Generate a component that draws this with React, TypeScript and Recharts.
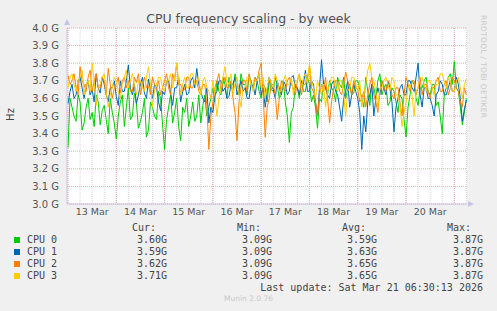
import { LineChart, Line, XAxis, YAxis, CartesianGrid } from 'recharts';

// hourly samples, starting Mar 13 00:00
const hours = Array.from({ length: 199 }, (_, i) => i);

const cpu0 = [
  3.32, 3.60, 3.55, 3.50, 3.47, 3.62, 3.58, 3.42, 3.46, 3.55, 3.60, 3.48, 3.52, 3.44, 3.62, 3.58, 3.45, 3.53, 3.56, 3.48,
  3.40, 3.60, 3.52, 3.46, 3.37, 3.50, 3.58, 3.62, 3.44, 3.55, 3.66, 3.48, 3.50, 3.63, 3.57, 3.43, 3.47, 3.52, 3.60, 3.38,
  3.42, 3.58, 3.55, 3.50, 3.48, 3.64, 3.60, 3.45, 3.31, 3.48, 3.55, 3.62, 3.46, 3.52, 3.60, 3.44, 3.36, 3.55, 3.52, 3.60,
  3.44, 3.50, 3.58, 3.47, 3.50, 3.62, 3.46, 3.56, 3.62, 3.50, 3.55, 3.60, 3.66, 3.58, 3.70, 3.64, 3.62, 3.72, 3.68, 3.60,
  3.72, 3.66, 3.65, 3.74, 3.70, 3.62, 3.74, 3.68, 3.68, 3.62, 3.73, 3.70, 3.65, 3.72, 3.70, 3.64, 3.60, 3.68, 3.66, 3.58,
  3.70, 3.65, 3.64, 3.72, 3.68, 3.60, 3.62, 3.70, 3.58, 3.50, 3.35, 3.52, 3.55, 3.68, 3.66, 3.60, 3.70, 3.64, 3.64, 3.72,
  3.68, 3.58, 3.62, 3.55, 3.43, 3.60, 3.58, 3.70, 3.66, 3.62, 3.70, 3.66, 3.64, 3.58, 3.72, 3.68, 3.66, 3.72, 3.60, 3.65,
  3.68, 3.62, 3.63, 3.70, 3.70, 3.65, 3.60, 3.55, 3.72, 3.64, 3.56, 3.68, 3.66, 3.60, 3.70, 3.74, 3.62, 3.66, 3.68, 3.56,
  3.58, 3.66, 3.64, 3.58, 3.52, 3.62, 3.60, 3.48, 3.38, 3.55, 3.62, 3.70, 3.68, 3.60, 3.56, 3.66, 3.66, 3.70, 3.72, 3.64,
  3.62, 3.68, 3.68, 3.56, 3.58, 3.50, 3.40, 3.62, 3.66, 3.72, 3.74, 3.68, 3.81, 3.66, 3.64, 3.55, 3.45, 3.52, 3.60,
];

const cpu1 = [
  3.57, 3.64, 3.68, 3.60, 3.62, 3.70, 3.72, 3.66, 3.60, 3.68, 3.70, 3.62, 3.65, 3.58, 3.74, 3.66, 3.63, 3.72, 3.68, 3.62,
  3.58, 3.66, 3.66, 3.70, 3.61, 3.56, 3.70, 3.64, 3.64, 3.70, 3.79, 3.66, 3.62, 3.68, 3.57, 3.62, 3.68, 3.72, 3.63, 3.60,
  3.71, 3.65, 3.60, 3.68, 3.66, 3.58, 3.53, 3.64, 3.62, 3.70, 3.70, 3.63, 3.56, 3.66, 3.66, 3.72, 3.58, 3.64, 3.68, 3.62,
  3.63, 3.70, 3.72, 3.66, 3.77, 3.68, 3.64, 3.60, 3.58, 3.66, 3.46, 3.55, 3.52, 3.62, 3.64, 3.70, 3.70, 3.64, 3.66, 3.60,
  3.61, 3.68, 3.68, 3.72, 3.62, 3.66, 3.70, 3.64, 3.66, 3.60, 3.60, 3.68, 3.67, 3.62, 3.70, 3.74, 3.62, 3.66, 3.55, 3.64,
  3.72, 3.68, 3.65, 3.60, 3.70, 3.66, 3.62, 3.70, 3.68, 3.62, 3.64, 3.72, 3.73, 3.66, 3.66, 3.62, 3.70, 3.68, 3.76, 3.64,
  3.64, 3.70, 3.68, 3.58, 3.50, 3.66, 3.82, 3.68, 3.66, 3.62, 3.60, 3.68, 3.70, 3.64, 3.62, 3.55, 3.47, 3.60, 3.64, 3.70,
  3.55, 3.62, 3.68, 3.64, 3.60, 3.52, 3.31, 3.50, 3.41, 3.58, 3.62, 3.68, 3.50, 3.60, 3.66, 3.62, 3.70, 3.66, 3.62, 3.70,
  3.66, 3.58, 3.41, 3.55, 3.60, 3.66, 3.68, 3.62, 3.62, 3.70, 3.70, 3.66, 3.64, 3.72, 3.80, 3.62, 3.55, 3.66, 3.66, 3.60,
  3.60, 3.56, 3.50, 3.62, 3.64, 3.70, 3.68, 3.62, 3.62, 3.66, 3.70, 3.64, 3.64, 3.72, 3.68, 3.60, 3.47, 3.54, 3.59,
];

const cpu2 = [
  3.73, 3.68, 3.70, 3.74, 3.66, 3.62, 3.78, 3.70, 3.68, 3.64, 3.72, 3.76, 3.64, 3.70, 3.74, 3.66, 3.66, 3.72, 3.70, 3.62,
  3.77, 3.68, 3.60, 3.66, 3.68, 3.72, 3.63, 3.70, 3.72, 3.66, 3.70, 3.64, 3.64, 3.72, 3.69, 3.74, 3.62, 3.68, 3.72, 3.66,
  3.67, 3.62, 3.72, 3.68, 3.65, 3.70, 3.62, 3.66, 3.70, 3.74, 3.66, 3.62, 3.74, 3.70, 3.80, 3.68, 3.68, 3.64, 3.65, 3.72,
  3.72, 3.66, 3.66, 3.70, 3.70, 3.64, 3.62, 3.68, 3.68, 3.56, 3.31, 3.50, 3.58, 3.66, 3.70, 3.74, 3.64, 3.68, 3.72, 3.66,
  3.66, 3.70, 3.60, 3.52, 3.36, 3.58, 3.66, 3.70, 3.70, 3.64, 3.74, 3.68, 3.66, 3.72, 3.70, 3.76, 3.80, 3.62, 3.38, 3.55,
  3.60, 3.68, 3.68, 3.62, 3.48, 3.60, 3.70, 3.66, 3.64, 3.70, 3.72, 3.68, 3.66, 3.62, 3.70, 3.74, 3.62, 3.68, 3.68, 3.72,
  3.78, 3.66, 3.64, 3.58, 3.50, 3.62, 3.68, 3.64, 3.72, 3.60, 3.46, 3.58, 3.66, 3.70, 3.70, 3.64, 3.62, 3.68, 3.75, 3.70,
  3.66, 3.62, 3.70, 3.66, 3.65, 3.58, 3.60, 3.64, 3.55, 3.62, 3.68, 3.72, 3.62, 3.58, 3.52, 3.64, 3.70, 3.66, 3.64, 3.70,
  3.68, 3.62, 3.60, 3.66, 3.66, 3.58, 3.50, 3.62, 3.72, 3.68, 3.64, 3.70, 3.70, 3.62, 3.66, 3.72, 3.62, 3.68, 3.68, 3.64,
  3.60, 3.66, 3.66, 3.70, 3.72, 3.64, 3.64, 3.68, 3.70, 3.62, 3.66, 3.72, 3.70, 3.66, 3.64, 3.58, 3.55, 3.66, 3.62,
];

const cpu3 = [
  3.66, 3.72, 3.74, 3.68, 3.64, 3.70, 3.72, 3.76, 3.62, 3.68, 3.70, 3.64, 3.80, 3.70, 3.56, 3.66, 3.68, 3.72, 3.74, 3.64,
  3.55, 3.62, 3.66, 3.72, 3.70, 3.64, 3.60, 3.68, 3.72, 3.76, 3.66, 3.70, 3.74, 3.68, 3.62, 3.70, 3.70, 3.66, 3.64, 3.72,
  3.78, 3.68, 3.55, 3.64, 3.68, 3.72, 3.72, 3.66, 3.64, 3.70, 3.70, 3.74, 3.66, 3.72, 3.80, 3.70, 3.62, 3.68, 3.72, 3.66,
  3.66, 3.74, 3.74, 3.68, 3.68, 3.72, 3.62, 3.70, 3.72, 3.66, 3.64, 3.60, 3.70, 3.62, 3.50, 3.60, 3.66, 3.72, 3.78, 3.70,
  3.68, 3.74, 3.62, 3.68, 3.72, 3.62, 3.55, 3.66, 3.66, 3.72, 3.72, 3.68, 3.64, 3.70, 3.70, 3.74, 3.66, 3.72, 3.60, 3.66,
  3.72, 3.68, 3.66, 3.74, 3.70, 3.64, 3.64, 3.70, 3.73, 3.68, 3.68, 3.72, 3.62, 3.70, 3.70, 3.74, 3.66, 3.72, 3.74, 3.68,
  3.80, 3.70, 3.66, 3.60, 3.70, 3.66, 3.62, 3.68, 3.55, 3.64, 3.68, 3.72, 3.72, 3.66, 3.64, 3.70, 3.70, 3.62, 3.50, 3.64,
  3.66, 3.72, 3.72, 3.68, 3.64, 3.70, 3.55, 3.62, 3.68, 3.76, 3.80, 3.72, 3.70, 3.64, 3.55, 3.66, 3.66, 3.70, 3.72, 3.68,
  3.64, 3.72, 3.70, 3.62, 3.62, 3.56, 3.44, 3.52, 3.58, 3.66, 3.68, 3.62, 3.50, 3.64, 3.66, 3.72, 3.72, 3.68, 3.64, 3.70,
  3.70, 3.66, 3.62, 3.68, 3.68, 3.74, 3.74, 3.70, 3.66, 3.72, 3.70, 3.64, 3.64, 3.70, 3.72, 3.66, 3.60, 3.68, 3.71,
];

const dayLabels = ['13 Mar', '14 Mar', '15 Mar', '16 Mar', '17 Mar', '18 Mar', '19 Mar', '20 Mar'];
const yTicks = [3.0, 3.1, 3.2, 3.3, 3.4, 3.5, 3.6, 3.7, 3.8, 3.9, 4.0];

const series = [
  { key: 'cpu0', name: 'CPU 0', color: '#00cc00', cur: '3.60G', min: '3.09G', avg: '3.59G', max: '3.87G' },
  { key: 'cpu1', name: 'CPU 1', color: '#0066b3', cur: '3.59G', min: '3.09G', avg: '3.63G', max: '3.87G' },
  { key: 'cpu2', name: 'CPU 2', color: '#ff8000', cur: '3.62G', min: '3.09G', avg: '3.65G', max: '3.87G' },
  { key: 'cpu3', name: 'CPU 3', color: '#ffcc00', cur: '3.71G', min: '3.09G', avg: '3.65G', max: '3.87G' },
];

const data = hours.map((t, i) => ({ t, cpu0: cpu0[i], cpu1: cpu1[i], cpu2: cpu2[i], cpu3: cpu3[i] }));

const noonTicks = dayLabels.map((_, i) => 12 + i * 24);
const midnights = Array.from({ length: 9 }, (_, i) => i * 24);
const sixHours = Array.from({ length: 34 }, (_, i) => i * 6);

const mono = '"DejaVu Sans Mono", monospace';
const sans = '"DejaVu Sans", sans-serif';
const redGrid = '#f0a8a8';
const axisColor = '#c4c4e4';

const txt = (left: number, top: number, s: string, extra: any = {}) => (
  <div style={{ position: 'absolute', left, top, height: 12, lineHeight: '12px', fontFamily: mono, fontSize: 10, color: '#444', whiteSpace: 'pre', ...extra }}>{s}</div>
);

export default function App() {
  return (
    <div style={{ position: 'absolute', left: 0, top: 0, width: 497, height: 311, background: '#f0f0f0', overflow: 'hidden' }}>
      <div style={{ position: 'absolute', left: 0, top: 11, width: 497, textAlign: 'center', fontFamily: sans, fontSize: 12.5, color: '#505050' }}>
        CPU frequency scaling - by week
      </div>
      <div style={{ position: 'absolute', left: 3, top: 109, width: 14, textAlign: 'center', fontFamily: sans, fontSize: 10, color: '#444', transform: 'rotate(-90deg)' }}>Hz</div>
      <div style={{ position: 'absolute', left: 488, top: 15, fontFamily: sans, fontSize: 7.5, color: '#c8c8c8', transform: 'rotate(90deg)', transformOrigin: 'left top', whiteSpace: 'nowrap', letterSpacing: 0.3 }}>
        RRDTOOL / TOBI OETIKER
      </div>

      <LineChart width={497} height={311} data={data} margin={{ top: 28, right: 30, bottom: 87, left: 7 }}>
        <CartesianGrid fill="#ffffff" horizontal={false} verticalValues={sixHours} stroke="#d6d6d6" strokeDasharray="1 1" />
        <CartesianGrid horizontal={false} verticalValues={midnights} stroke={redGrid} strokeDasharray="1 1" />
        <CartesianGrid vertical={false} horizontalValues={yTicks} stroke={redGrid} strokeDasharray="1 1" />
        <XAxis
          dataKey="t"
          type="number"
          domain={[-0.5, 198.3]}
          allowDataOverflow
          ticks={noonTicks}
          tickFormatter={(v: number) => dayLabels[Math.round((v - 12) / 24)]}
          interval={0}
          height={20}
          tickLine={false}
          tickSize={2}
          axisLine={{ stroke: axisColor }}
          tick={{ fontSize: 9.5, fill: '#555', fontFamily: sans }}
        />
        <YAxis
          type="number"
          domain={[3.0, 4.0]}
          allowDataOverflow
          ticks={yTicks}
          interval={0}
          width={60}
          tickLine={false}
          axisLine={{ stroke: axisColor }}
          tickFormatter={(v: number) => `${v.toFixed(1)} G`}
          tick={{ fontSize: 10, fill: '#555', fontFamily: sans }}
        />
        {series.map((s) => (
          <Line key={s.key} type="linear" dataKey={s.key} stroke={s.color} strokeWidth={1} dot={false} isAnimationActive={false} />
        ))}
      </LineChart>

      <svg style={{ position: 'absolute', left: 0, top: 0 }} width={497} height={311}>
        <polygon points="64,25 70,25 67,19" fill={axisColor} />
        <polygon points="468,201 468,207 474,204" fill={axisColor} />
      </svg>

      {txt(132, 222, 'Cur:')}
      {txt(237, 222, 'Min:')}
      {txt(342, 222, 'Avg:')}
      {txt(447, 222, 'Max:')}
      {series.map((s, i) => {
        const top = 234 + i * 12;
        return (
          <div key={s.key}>
            <div style={{ position: 'absolute', left: 14, top: top + 3, width: 6, height: 6, background: s.color }} />
            {txt(27, top, s.name)}
            {txt(117, top, s.cur, { width: 50, textAlign: 'right' })}
            {txt(222, top, s.min, { width: 50, textAlign: 'right' })}
            {txt(327, top, s.avg, { width: 50, textAlign: 'right' })}
            {txt(433, top, s.max, { width: 50, textAlign: 'right' })}
          </div>
        );
      })}
      {txt(200, 282, 'Last update: Sat Mar 21 06:30:13 2026', { width: 283, textAlign: 'right' })}
      <div style={{ position: 'absolute', left: 0, top: 294, width: 497, textAlign: 'center', fontFamily: sans, fontSize: 7.5, color: '#c8c8c8' }}>Munin 2.0.76</div>
    </div>
  );
}
